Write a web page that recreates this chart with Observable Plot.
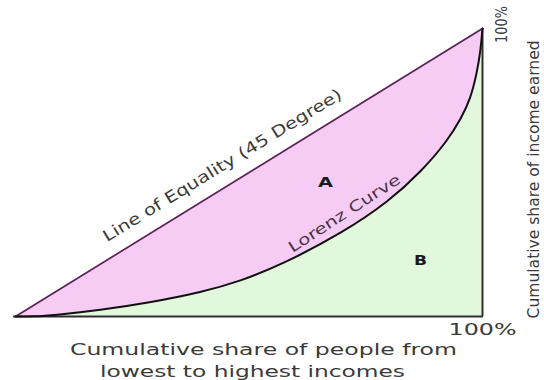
<!DOCTYPE html>
<html>
<head>
<meta charset="utf-8">
<script src="https://cdn.jsdelivr.net/npm/d3@7"></script>
<script src="https://cdn.jsdelivr.net/npm/@observablehq/plot@0.6"></script>
<style>
  html, body { margin: 0; padding: 0; background: #ffffff; }
  #chart { width: 544px; height: 380px; overflow: hidden; }
</style>
</head>
<body>
<div id="chart"></div>
<script>
// Cumulative share of people (x) and cumulative share of income (y) along the Lorenz curve
const peopleShare = [0, 0.04, 0.08, 0.18, 0.29, 0.40, 0.48, 0.57, 0.70, 0.80, 0.87, 0.925, 0.955, 0.974, 0.988, 0.996, 1];
const incomeShare = [0, 0.0, 0.004, 0.022, 0.049, 0.085, 0.122, 0.18, 0.29, 0.40, 0.505, 0.61, 0.69, 0.755, 0.845, 0.925, 1];
// Line of equality endpoints
const equalityX = [0, 1];
const equalityY = [0, 1];
// Tick labels
const xTickLabels = ["100%"];
const yTickLabels = ["100%"];
const xTickValues = [1];
const yTickValues = [1];
// Texts
const xTitleLines = ["Cumulative share of people from", "lowest to highest incomes"];
const yTitle = "Cumulative share of income earned";
const equalityLabel = "Line of Equality (45 Degree)";
const lorenzLabel = "Lorenz Curve";
const areaLabels = ["A", "B"];

const idx = d3.range(peopleShare.length);
const eqIdx = d3.range(equalityX.length);

const plot = Plot.plot({
  width: 544,
  height: 380,
  margin: 0,
  x: {domain: [0, 1], range: [15, 482], axis: null},
  y: {domain: [0, 1], range: [316, 28], axis: null},
  style: {background: "#ffffff", fontFamily: "'DejaVu Sans', sans-serif", overflow: "visible"},
  marks: [
    // green area under the Lorenz curve (B)
    Plot.areaY(idx, {x: i => peopleShare[i], y1: 0, y2: i => incomeShare[i], fill: "#e1f8dc", curve: "basis"}),
    // pink area between equality line and Lorenz curve (A)
    Plot.areaY(idx, {x: i => peopleShare[i], y1: i => incomeShare[i], y2: i => peopleShare[i], fill: "#f6cbf4", curve: "basis"}),
    // axes frame lines
    Plot.ruleY([0], {x1: -0.004, x2: 1.002, stroke: "#2e2e2e", strokeWidth: 2}),
    Plot.ruleX([1], {y1: 0, y2: 1, stroke: "#2e2e2e", strokeWidth: 2}),
    // line of equality
    Plot.line(eqIdx, {x: i => equalityX[i], y: i => equalityY[i], stroke: "#5a2456", strokeWidth: 1.7}),
    // Lorenz curve
    Plot.line(idx, {x: i => peopleShare[i], y: i => incomeShare[i], stroke: "#111111", strokeWidth: 2, curve: "basis"}),
    // tick labels
    Plot.text(xTickLabels, {x: (d, i) => xTickValues[i], y: -0.045, text: d => d, fontSize: 16, fill: "#3a3a3a", className: "xtick"}),
    Plot.text(yTickLabels, {x: 1.042, y: (d, i) => yTickValues[i] + 0.0139, text: d => d, fontSize: 15, rotate: -90, fill: "#3a3a3a", className: "ytick"}),
    // axis titles
    Plot.text([xTitleLines[0]], {x: 0.531, y: -0.1146, text: d => d, fontSize: 16, fill: "#3a3a3a", className: "xt1"}),
    Plot.text([xTitleLines[1]], {x: 0.5075, y: -0.191, text: d => d, fontSize: 16, fill: "#3a3a3a", className: "xt2"}),
    Plot.text([yTitle], {x: 1.110, y: 0.476, text: d => d, fontSize: 16, rotate: -90, fill: "#3a3a3a", className: "yt"}),
    // curve labels
    Plot.text([equalityLabel], {x: 0.443, y: 0.524, text: d => d, fontSize: 16, rotate: -31.5, fill: "#3a3a3a", className: "eql"}),
    Plot.text([lorenzLabel], {x: 0.7045, y: 0.3576, text: d => d, fontSize: 15, rotate: -33, fill: "#4a3448", className: "lzl"}),
    // region labels
    Plot.text([areaLabels[0]], {x: 0.664, y: 0.465, text: d => d, fontSize: 14, fontWeight: "bold", fill: "#1a1a1a", className: "lbA"}),
    Plot.text([areaLabels[1]], {x: 0.867, y: 0.194, text: d => d, fontSize: 14, fontWeight: "bold", fill: "#1a1a1a", className: "lbB"})
  ]
});

document.getElementById("chart").appendChild(plot);

// stretch texts to match the reference's proportions
const fit = {xtick: 68, ytick: 37, xt1: 387, xt2: 305, yt: 278, eql: 277, lzl: 130, lbA: 15, lbB: 13};
for (const [cls, len] of Object.entries(fit)) {
  d3.select(plot).selectAll(`g.${cls} text`)
    .attr("textLength", len)
    .attr("lengthAdjust", "spacingAndGlyphs");
}
</script>
</body>
</html>
